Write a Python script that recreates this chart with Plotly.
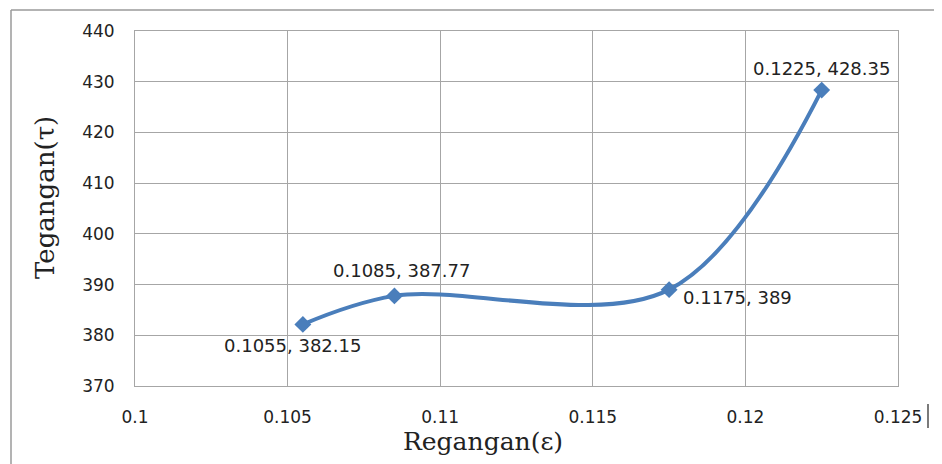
import plotly.graph_objects as go

# Data
strain = [0.1055, 0.1085, 0.1175, 0.1225]
stress = [382.15, 387.77, 389, 428.35]
point_labels = ["0.1055, 382.15", "0.1085, 387.77", "0.1175, 389", "0.1225, 428.35"]
x_ticks = [0.1, 0.105, 0.11, 0.115, 0.12, 0.125]
x_tick_text = ["0.1", "0.105", "0.11", "0.115", "0.12", "0.125"]
y_ticks = [370, 380, 390, 400, 410, 420, 430, 440]
x_title = "Regangan(ε)"
y_title = "Tegangan(τ)"

# label offsets (style) in pixels
label_style = [
    dict(xshift=-10, yshift=-21, xanchor="center"),
    dict(xshift=7, yshift=25, xanchor="center"),
    dict(xshift=12, yshift=-8, xanchor="left"),
    dict(xshift=0, yshift=22, xanchor="center"),
]

BLUE = "#4A7EBB"
GRID = "#A6A6A6"

# page has an 8px body margin; work in page pixels and convert
OFF = 8
W, H = 942 - OFF, 464 - OFF
PL, PR, PT, PB = 135, 898, 31, 386   # plot area in page pixels
L, T = PL - OFF, PT - OFF
R = W - (PR - OFF)
B = H - (PB - OFF)
pw, ph = PR - PL, PB - PT


def px(xp):
    return (xp - PL) / pw


def py(yp):
    return (PB - yp) / ph


fig = go.Figure()
fig.add_trace(go.Scatter(
    x=strain, y=stress, mode="lines+markers",
    line=dict(color=BLUE, width=4, shape="spline", smoothing=1),
    marker=dict(symbol="diamond", size=13, color=BLUE),
    hoverinfo="skip", showlegend=False,
))

annotations = []
for xv, yv, txt, st in zip(strain, stress, point_labels, label_style):
    annotations.append(dict(
        x=xv, y=yv, xref="x", yref="y", text=txt, showarrow=False,
        font=dict(family="DejaVu Sans", size=18, color="#222222"),
        yanchor="middle", **st))

annotations.append(dict(
    x=px(483), y=py(441), xref="paper", yref="paper",
    text=x_title, showarrow=False, xanchor="center", yanchor="middle",
    font=dict(family="DejaVu Serif", size=25, color="#222222")))
annotations.append(dict(
    x=px(45), y=py(198), xref="paper", yref="paper",
    text=y_title, showarrow=False, xanchor="center", yanchor="middle",
    textangle=-90,
    font=dict(family="DejaVu Serif", size=26, color="#222222")))

shapes = [
    # outer chart border (left and top)
    dict(type="line", xref="paper", yref="paper",
         x0=px(11), x1=px(11), y0=py(10), y1=py(470),
         line=dict(color="#9A9A9A", width=1.5)),
    dict(type="line", xref="paper", yref="paper",
         x0=px(11), x1=px(950), y0=py(10), y1=py(10),
         line=dict(color="#9A9A9A", width=1.5)),
    # small vertical mark right of the last tick label
    dict(type="line", xref="paper", yref="paper",
         x0=px(928), x1=px(928), y0=py(404), y1=py(428),
         line=dict(color="#222222", width=1.2)),
]

fig.update_layout(
    width=W, height=H,
    margin=dict(l=L, r=R, t=T, b=B, pad=0),
    paper_bgcolor="white", plot_bgcolor="white",
    annotations=annotations, shapes=shapes,
    xaxis=dict(range=[0.1, 0.125], tickvals=x_ticks, ticktext=x_tick_text,
               showgrid=True, gridcolor=GRID, gridwidth=1,
               showline=True, linecolor=GRID, linewidth=1, mirror=True,
               zeroline=False, ticks="", ticklabelstandoff=16,
               tickfont=dict(family="DejaVu Sans", size=17, color="#222222")),
    yaxis=dict(range=[370, 440], tickvals=y_ticks,
               showgrid=True, gridcolor=GRID, gridwidth=1,
               showline=True, linecolor=GRID, linewidth=1, mirror=True,
               zeroline=False, ticks="", ticklabelstandoff=16,
               tickfont=dict(family="DejaVu Sans", size=17, color="#222222")),
)

fig.write_html("out.html")
